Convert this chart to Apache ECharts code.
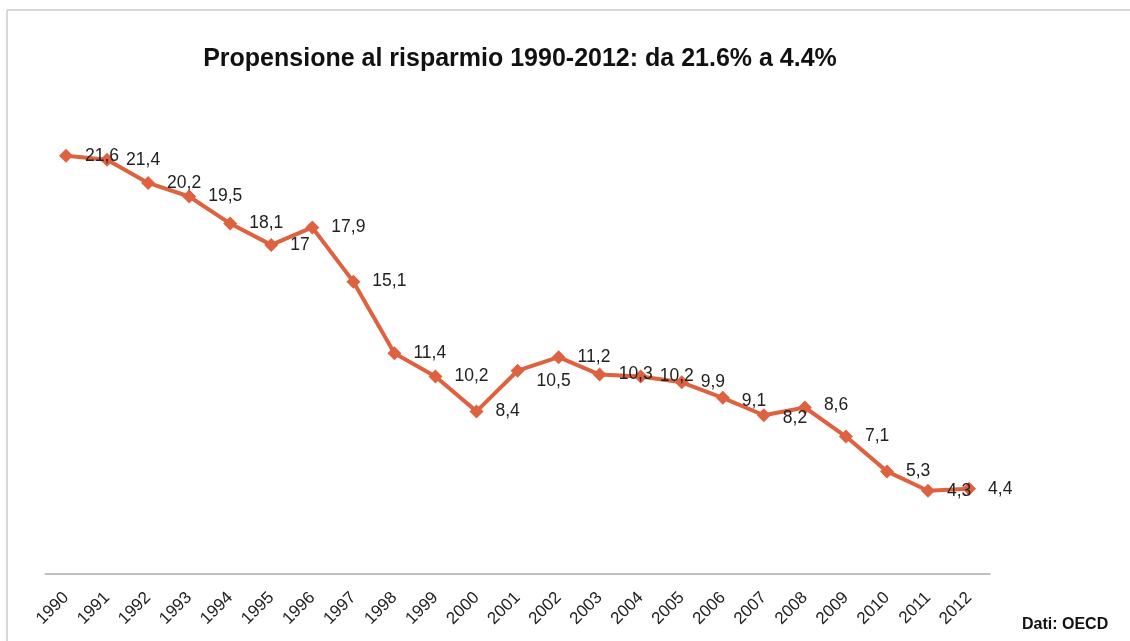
<!DOCTYPE html>
<html>
<head>
<meta charset="utf-8">
<script src="https://cdn.jsdelivr.net/npm/echarts@6/dist/echarts.min.js"></script>
<style>
  html, body { margin: 0; padding: 0; background: #fff; }
  #chart { width: 1130px; height: 641px; }
</style>
</head>
<body>
<div id="chart"></div>
<script>
// Propensione al risparmio delle famiglie italiane (%)
const years = ['1990','1991','1992','1993','1994','1995','1996','1997','1998','1999','2000',
               '2001','2002','2003','2004','2005','2006','2007','2008','2009','2010','2011','2012'];
const savingRate = [21.6, 21.4, 20.2, 19.5, 18.1, 17, 17.9, 15.1, 11.4, 10.2, 8.4,
                    10.5, 11.2, 10.3, 10.2, 9.9, 9.1, 8.2, 8.6, 7.1, 5.3, 4.3, 4.4];

const chart = echarts.init(document.getElementById('chart'), null, { renderer: 'canvas' });

const lineColor = '#DE6240';
const fmt = v => String(v).replace('.', ',');

// small nudges so a few labels sit clear of the line
const labelOffsets = { '2001': [0, 10], '2006': [0, 3], '2007': [0, 3], '2008': [0, -2] };

const seriesData = savingRate.map((v, i) => {
  const item = { value: v };
  const off = labelOffsets[years[i]];
  if (off) item.label = { offset: off };
  return item;
});

chart.setOption({
  animation: false,
  backgroundColor: '#ffffff',
  graphic: [
    { type: 'line', shape: { x1: 7, y1: 10, x2: 1130, y2: 10 }, style: { stroke: '#c8cccc', lineWidth: 1.5 } },
    { type: 'line', shape: { x1: 7, y1: 10, x2: 7, y2: 641 }, style: { stroke: '#c8cccc', lineWidth: 1.5 } }
  ],
  title: [
    {
      text: 'Propensione al risparmio 1990-2012: da 21.6% a 4.4%',
      left: 515, top: 42, textAlign: 'center',
      textStyle: { fontFamily: 'Liberation Sans, Arial, sans-serif', fontSize: 25, fontWeight: 'bold', color: '#111' }
    },
    {
      text: 'Dati: OECD',
      left: 1017, top: 612,
      textStyle: { fontFamily: 'Liberation Sans Narrow, Arial Narrow, sans-serif', fontSize: 16, fontWeight: 'bold', color: '#111' }
    }
  ],
  grid: { left: 45.5, right: 140.4, top: 90, bottom: 67, containLabel: false },
  xAxis: {
    type: 'category',
    data: years,
    boundaryGap: true,
    axisLine: { show: true, lineStyle: { color: '#c0c0c0', width: 2 } },
    axisTick: { show: false },
    axisLabel: {
      rotate: 45, margin: 21, interval: 0,
      fontFamily: 'Liberation Sans, Arial, sans-serif', fontSize: 17, color: '#222'
    }
  },
  yAxis: {
    type: 'value', min: 0, max: 25,
    show: false,
    splitLine: { show: false }
  },
  series: [{
    type: 'line',
    data: seriesData,
    symbol: 'diamond',
    symbolSize: 14,
    lineStyle: { color: lineColor, width: 4 },
    itemStyle: { color: lineColor },
    label: {
      show: true, position: 'right', distance: 12,
      formatter: p => fmt(p.value),
      fontFamily: 'Liberation Sans, Arial, sans-serif', fontSize: 17.5, color: '#222'
    }
  }]
});
</script>
</body>
</html>
